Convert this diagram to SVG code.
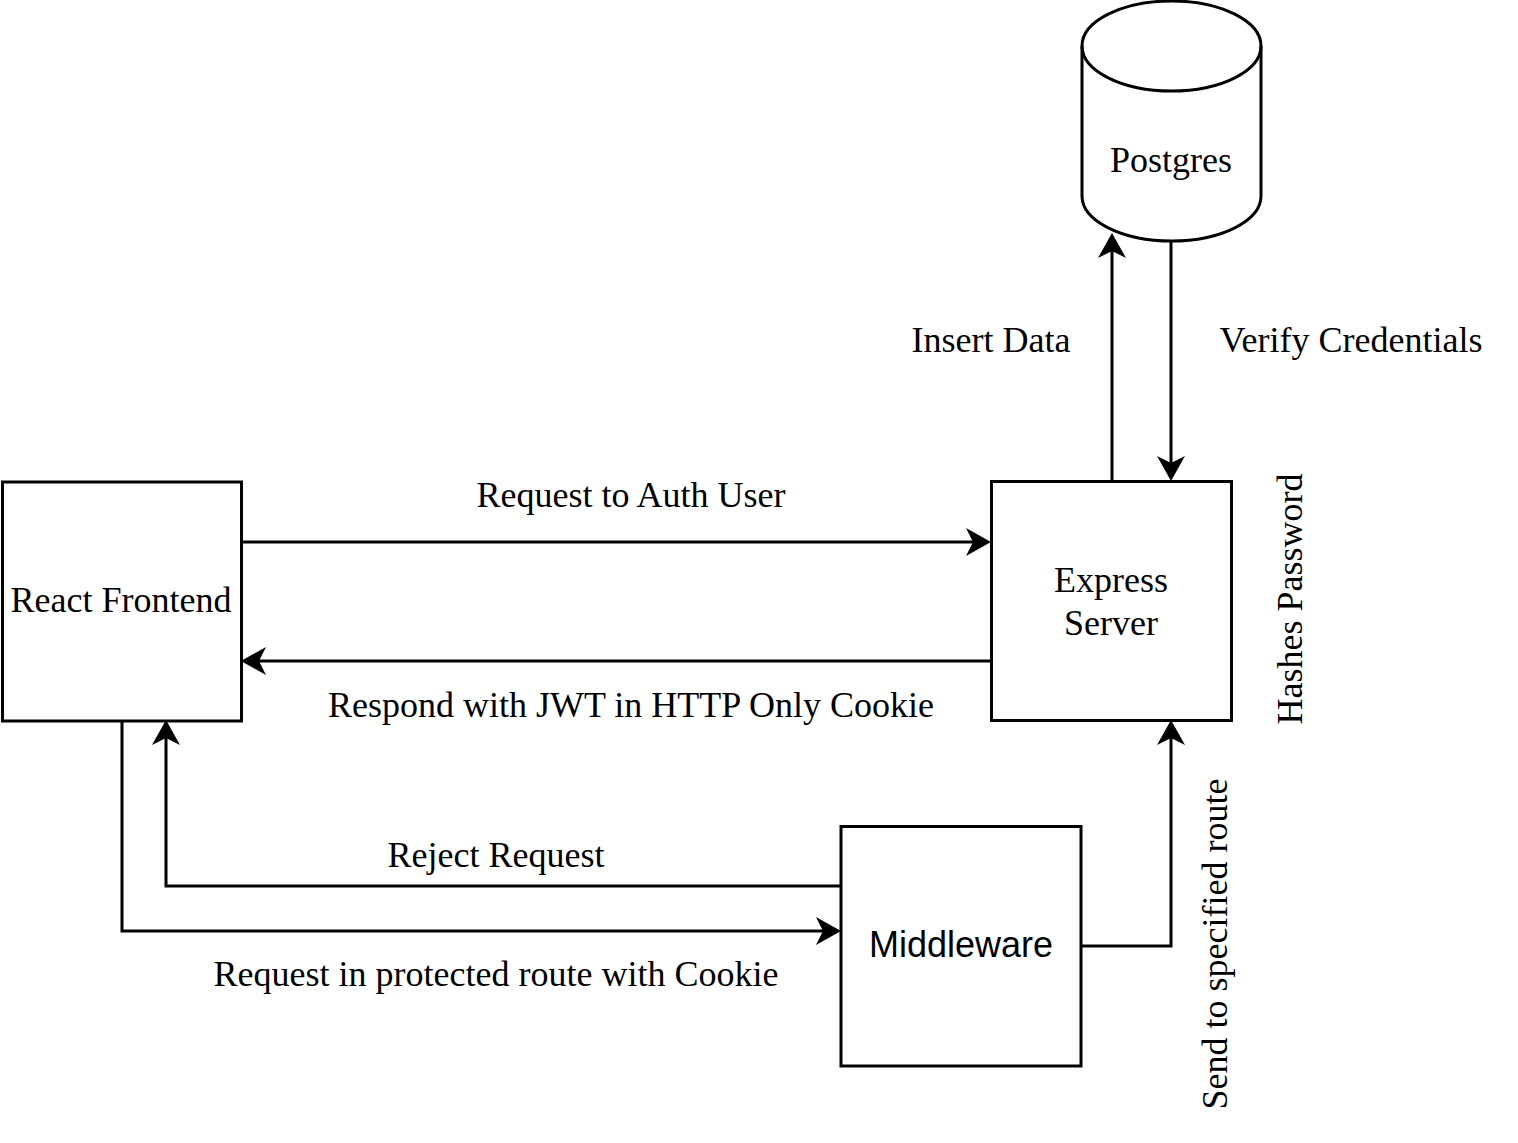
<svg xmlns="http://www.w3.org/2000/svg" width="1518" height="1143" viewBox="0 0 1518 1143">
<style>
.box{fill:#fff;stroke:#000;stroke-width:3}
.edge{fill:none;stroke:#000;stroke-width:3}
.t{font-family:"Liberation Serif","Times New Roman",serif;font-size:36px;fill:#000;text-anchor:middle}
.s{font-family:"Liberation Sans",Arial,sans-serif;font-size:36px;fill:#000;text-anchor:middle}
</style>
<defs>
<marker id="arr" markerUnits="userSpaceOnUse" viewBox="-26 -15 28 30" markerWidth="28" markerHeight="30" refX="-18" refY="0" orient="auto">
<path d="M0,0 L-25,-14 L-18,0 L-25,14 Z" fill="#000"/>
</marker>
</defs>
<rect width="1518" height="1143" fill="#fff"/>
<g id="connectors">
<path class="edge" d="M241,542 H973" marker-end="url(#arr)"/>
<path class="edge" d="M991,661 H259" marker-end="url(#arr)"/>
<path class="edge" d="M1112,481 V251" marker-end="url(#arr)"/>
<path class="edge" d="M1171,241 V463" marker-end="url(#arr)"/>
<path class="edge" d="M841,886 H166 V738" marker-end="url(#arr)"/>
<path class="edge" d="M122,721 V931 H823" marker-end="url(#arr)"/>
<path class="edge" d="M1081,946 H1171 V738" marker-end="url(#arr)"/>
</g>
<g id="labels">
<text class="t" x="631" y="507">Request to Auth User</text>
<text class="t" x="631" y="717">Respond with JWT in HTTP Only Cookie</text>
<text class="t" x="496" y="867">Reject Request</text>
<text class="t" x="496" y="986">Request in protected route with Cookie</text>
<text class="t" x="991" y="352">Insert Data</text>
<text class="t" x="1351" y="352">Verify Credentials</text>
<text class="t" transform="translate(1302,599) rotate(-90)" x="0" y="0">Hashes Password</text>
<text class="t" transform="translate(1227,944) rotate(-90)" x="0" y="0">Send to specified route</text>
</g>
<g id="postgres">
<path class="box" d="M1082,46 A89.5,45 0 0 1 1261,46 V196 A89.5,45 0 0 1 1082,196 Z"/>
<path class="edge" d="M1082,46 A89.5,45 0 0 0 1261,46"/>
<text class="t" x="1171" y="172">Postgres</text>
</g>
<g id="react">
<rect class="box" x="2.5" y="482" width="239" height="239"/>
<text class="t" x="121" y="612">React Frontend</text>
</g>
<g id="express">
<rect class="box" x="991.5" y="481.5" width="240" height="239"/>
<text class="t" x="1111" y="592">Express</text>
<text class="t" x="1111" y="635">Server</text>
</g>
<g id="middleware">
<rect class="box" x="841" y="826.5" width="240" height="239.5"/>
<text class="s" x="961" y="957">Middleware</text>
</g>
</svg>
